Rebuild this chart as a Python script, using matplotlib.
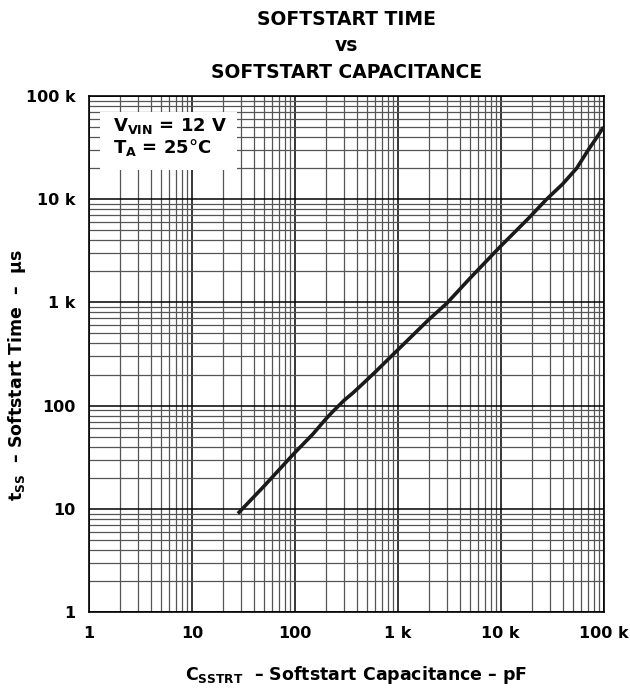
import numpy as np
import matplotlib
matplotlib.use('Agg')
import matplotlib.pyplot as plt
from matplotlib.patches import Rectangle
from matplotlib.ticker import FixedLocator, FixedFormatter, LogLocator, NullFormatter

plt.rcParams['font.family'] = ['DejaVu Sans']
plt.rcParams['font.weight'] = 'bold'
plt.rcParams['axes.titleweight'] = 'bold'
plt.rcParams['axes.labelweight'] = 'bold'
plt.rcParams['mathtext.fontset'] = 'custom'
plt.rcParams['mathtext.rm'] = 'DejaVu Sans:bold'
plt.rcParams['mathtext.bf'] = 'DejaVu Sans:bold'

# Datos (pF, us)
capacitance = [28, 50, 100, 150, 195, 230, 300, 365, 450, 600, 1000, 2000, 3000,
               5000, 10000, 12300, 18600, 28000, 40000, 55000, 71000, 85000, 100000]
softstart_time = [9, 16.5, 35, 53, 72, 86, 112, 132, 160, 210, 346, 680, 980,
                  1700, 3500, 4300, 6500, 10000, 14000, 20000, 30000, 39000, 50000]

tick_values = [1, 10, 100, 1000, 10000, 100000]
tick_labels = ['1', '10', '100', '1 k', '10 k', '100 k']

fig = plt.figure(figsize=(6.3, 6.92), dpi=100)
ax = fig.add_axes([89 / 630, 1 - 612 / 692, (603.5 - 89) / 630, (612 - 96) / 692])

ax.set_xscale('log')
ax.set_yscale('log')
ax.set_xlim(1, 1e5)
ax.set_ylim(1, 1e5)

# Rejilla: lineas mayores negras, menores grises
ax.xaxis.set_major_locator(FixedLocator(tick_values))
ax.xaxis.set_major_formatter(FixedFormatter(tick_labels))
ax.yaxis.set_major_locator(FixedLocator(tick_values))
ax.yaxis.set_major_formatter(FixedFormatter(tick_labels))
for axis in (ax.xaxis, ax.yaxis):
    axis.set_minor_locator(LogLocator(base=10, subs=np.arange(2, 10), numticks=20))
    axis.set_minor_formatter(NullFormatter())
ax.grid(True, which='major', color='black', linewidth=1.1)
ax.grid(True, which='minor', color='#555555', linewidth=0.9)
ax.tick_params(which='both', length=0)
ax.tick_params(axis='x', pad=10, labelsize=11.5)
ax.tick_params(axis='y', pad=9.5, labelsize=11.5)
for s in ax.spines.values():
    s.set_linewidth(1.2)

ax.plot(capacitance, softstart_time, color='#1a1a1a', linewidth=2.6,
        solid_capstyle='butt', zorder=4)

# Caja blanca con las condiciones
ax.add_patch(Rectangle((0.021, 0.857), 0.266, 0.112, transform=ax.transAxes,
                       facecolor='white', edgecolor='none', zorder=3))
ax.text(0.047, 0.942, '$\\mathregular{V_{VIN}}$ = 12 V', transform=ax.transAxes,
        fontsize=13, va='center', ha='left', zorder=5)
ax.text(0.047, 0.901, '$\\mathregular{T_A}$ = 25°C', transform=ax.transAxes,
        fontsize=13, va='center', ha='left', zorder=5)

ax.set_title('SOFTSTART TIME\nvs\nSOFTSTART CAPACITANCE', fontsize=13.5,
             fontweight='bold', pad=13, linespacing=1.5)
ax.set_xlabel('$\\mathregular{C_{SSTRT}}$  – Softstart Capacitance – pF',
              fontsize=12.5, fontweight='bold')
ax.xaxis.set_label_coords(0.52, -0.1)
ax.set_ylabel('$\\mathregular{t_{SS}}$  – Softstart Time  –  µs',
              fontsize=12.5, fontweight='bold')
ax.yaxis.set_label_coords(-0.118, 0.46)

plt.savefig('out.png', dpi=100)
